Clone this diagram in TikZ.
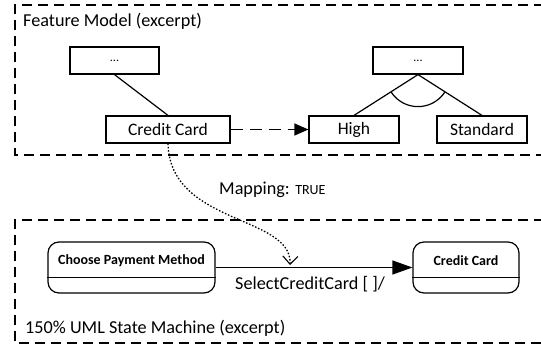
\documentclass[tikz,border=0pt]{standalone}
\usepackage{fontspec}
\setmainfont{Carlito}
\usetikzlibrary{arrows.meta,calc}
\tikzset{
  fbox/.style={draw, line width=1.2pt, minimum height=27pt, inner sep=0pt, font=\fontsize{17.5}{20}\selectfont},
  frame/.style={line width=1.2pt, dash pattern=on 10pt off 6pt},
  statebox/.style={draw, line width=1.2pt, rounded corners=11pt, minimum height=51pt, inner sep=0pt},
  stitle/.style={font=\bfseries\fontsize{14}{16}\selectfont, inner sep=0pt},
  lbl/.style={font=\fontsize{18.2}{21}\selectfont, inner sep=0pt},
  conn/.style={line width=1.2pt},
}
\begin{document}
\begin{tikzpicture}[x=1pt,y=-1pt]
\useasboundingbox (0,0) rectangle (541,345);
\clip (0,0) rectangle (541,345);
% frames
\draw[frame] (560,5) -- (15,5) -- (15,155) -- (560,155);
\draw[frame] (560,220) -- (15,220) -- (15,343) -- (560,343);
\node[lbl, anchor=west] (fmlabel) at (23,21) {Feature Model (excerpt)};
\node[lbl, anchor=west] (smlabel) at (25,328) {150\% UML State Machine (excerpt)};
% feature model
\node[fbox, minimum width=89pt] (p1) at (114.5,60.5) {\fontsize{12}{14}\selectfont ...};
\node[fbox, minimum width=124pt] (cc) at (168,129.5) {Credit Card};
\node[fbox, minimum width=90pt] (p2) at (418,60.5) {\fontsize{12}{14}\selectfont ...};
\node[fbox, minimum width=90pt] (high) at (354,129.5) {High};
\node[fbox, minimum width=90pt] (std) at (482,129.5) {Standard};
\draw[conn] (p1.south) -- (cc.north);
\draw[conn] (p2.south) -- (high.north);
\draw[conn] (p2.south) -- (std.north);
\begin{scope}
\clip (p2.south) -- (high.north) -- (std.north) -- cycle;
\draw[conn] (p2.south) circle[radius=32pt];
\end{scope}
\draw[conn, dash pattern=on 12pt off 7pt, -{Triangle[length=14pt,width=12pt]}] (cc.east) -- (high.west);
% state machine
\node[statebox, minimum width=167pt] (cpm) at (131.5,267.5) {};
\node[statebox, minimum width=106pt] (ccs) at (466,267.5) {};
\draw[conn] ($(cpm.south west)+(0,-16)$) -- ($(cpm.south east)+(0,-16)$);
\draw[conn] ($(ccs.south west)+(0,-16)$) -- ($(ccs.south east)+(0,-16)$);
\node[stitle] (cpmt) at ($(cpm.north)+(0,19)$) {Choose Payment Method};
\node[stitle] (ccst) at ($(ccs.north)+(0,19)$) {Credit Card};
\draw[conn, -{Triangle[length=20pt,width=14pt]}] (cpm.east) -- (ccs.west)
  node[lbl, pos=0.48, yshift=-17pt] (trl) {SelectCreditCard [ ]/};
% mapping
\coordinate (mapend) at (290,265);
\draw[line width=1.3pt, dash pattern=on 1.5pt off 1.8pt, -{Straight Barb[length=8pt,width=15pt,line width=1.1pt]}]
  (cc.south) .. controls (170,225) and (292,215) .. (mapend);
\node[lbl, anchor=west] (maplbl) at (219,190) {Mapping: {\fontsize{14}{16}\selectfont TRUE}};
\end{tikzpicture}
\end{document}
